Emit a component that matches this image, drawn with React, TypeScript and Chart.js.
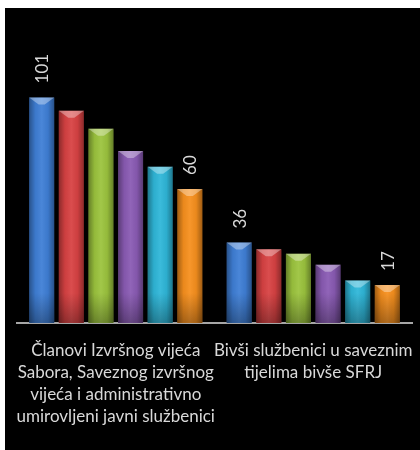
import React, { useEffect, useRef } from "react";
import { Chart, registerables } from "chart.js";

Chart.register(...registerables);

const categories: string[][] = [
  ["Članovi Izvršnog vijeća", "Sabora, Saveznog izvršnog", "vijeća i administrativno", "umirovljeni javni službenici"],
  ["Bivši službenici u saveznim", "tijelima bivše SFRJ"],
];

const seriesNames = ["Serija 1", "Serija 2", "Serija 3", "Serija 4", "Serija 5", "Serija 6"];
const series1 = [101, 36];
const series2 = [95, 33];
const series3 = [87, 31];
const series4 = [77, 26];
const series5 = [70, 19];
const series6 = [60, 17];
const seriesColors = ["#3f7fd6", "#d84243", "#9cc43e", "#8a5bb4", "#2fb7d9", "#f7901e"];
const labelledSeries = [0, 5];

const yMax = 120;

const barStylePlugin = {
  id: "barStyle",
  afterDatasetsDraw(chart: any) {
    const ctx = chart.ctx as CanvasRenderingContext2D;
    chart.data.datasets.forEach((_: any, di: number) => {
      const meta = chart.getDatasetMeta(di);
      if (meta.hidden) return;
      meta.data.forEach((el: any, i: number) => {
        const { x, y, base, width } = el.getProps(["x", "y", "base", "width"], true);
        const left = x - width / 2;
        const h = base - y;
        ctx.save();
        const g = ctx.createLinearGradient(left, 0, left + width, 0);
        g.addColorStop(0, "rgba(0,0,0,0.35)");
        g.addColorStop(0.25, "rgba(0,0,0,0.05)");
        g.addColorStop(0.5, "rgba(255,255,255,0.06)");
        g.addColorStop(0.75, "rgba(0,0,0,0.05)");
        g.addColorStop(1, "rgba(0,0,0,0.35)");
        ctx.fillStyle = g;
        ctx.fillRect(left, y, width, h);
        const gv = ctx.createLinearGradient(0, base - 30, 0, base);
        gv.addColorStop(0, "rgba(0,0,0,0)");
        gv.addColorStop(1, "rgba(0,0,0,0.3)");
        ctx.fillStyle = gv;
        ctx.fillRect(left, Math.max(y, base - 30), width, Math.min(30, h));
        ctx.beginPath();
        ctx.moveTo(left, y);
        ctx.lineTo(left + width, y);
        ctx.lineTo(x + width * 0.12, y + 7);
        ctx.lineTo(x - width * 0.12, y + 7);
        ctx.closePath();
        ctx.fillStyle = "rgba(255,255,255,0.35)";
        ctx.fill();
        ctx.restore();

        if (labelledSeries.includes(di)) {
          const v = chart.data.datasets[di].data[i];
          ctx.save();
          ctx.translate(x + 1, y - 14);
          ctx.rotate(-Math.PI / 2);
          ctx.font = "17px Lato";
          ctx.fillStyle = "#d9d9d9";
          ctx.textAlign = "left";
          ctx.textBaseline = "middle";
          ctx.fillText(String(v), 0, 0);
          ctx.restore();
        }
      });
    });
  },
};

export default function App() {
  const canvasRef = useRef<HTMLCanvasElement | null>(null);

  useEffect(() => {
    let chart: Chart | null = null;
    let cancelled = false;
    const make = () => {
      if (cancelled || !canvasRef.current) return;
      const all = [series1, series2, series3, series4, series5, series6];
      chart = new Chart(canvasRef.current, {
        type: "bar",
        data: {
          labels: categories as any,
          datasets: all.map((d, i) => ({
            label: seriesNames[i],
            data: d,
            backgroundColor: seriesColors[i],
            borderWidth: 0,
            barPercentage: 0.845,
            categoryPercentage: 0.9,
          })),
        },
        options: {
          animation: false,
          responsive: false,
          maintainAspectRatio: false,
          layout: { padding: { left: 12, right: 8, top: 47, bottom: 6 } },
          plugins: { legend: { display: false }, tooltip: { enabled: false } },
          scales: {
            x: {
              grid: { display: false, drawTicks: false },
              border: { display: true, color: "#a6a6a6", width: 2 },
              afterFit: (scale: any) => {
                scale.paddingLeft = 0;
                scale.paddingRight = 0;
              },
              ticks: {
                color: "#d9d9d9",
                font: { family: "Lato", size: 17, lineHeight: 1.31 },
                padding: 16,
                maxRotation: 0,
                minRotation: 0,
                autoSkip: false,
              },
            },
            y: { display: false, min: 0, max: yMax },
          },
        },
        plugins: [barStylePlugin],
      });
    };
    const fonts = (document as any).fonts;
    if (fonts && fonts.load) {
      fonts.load("17px Lato").then(make, make);
    } else make();
    return () => {
      cancelled = true;
      if (chart) chart.destroy();
    };
  }, []);

  return (
    <div style={{ position: "absolute", left: 5, top: 8, width: 415, height: 442, background: "#000" }}>
      <canvas ref={canvasRef} width={415} height={442} style={{ display: "block" }} />
    </div>
  );
}
